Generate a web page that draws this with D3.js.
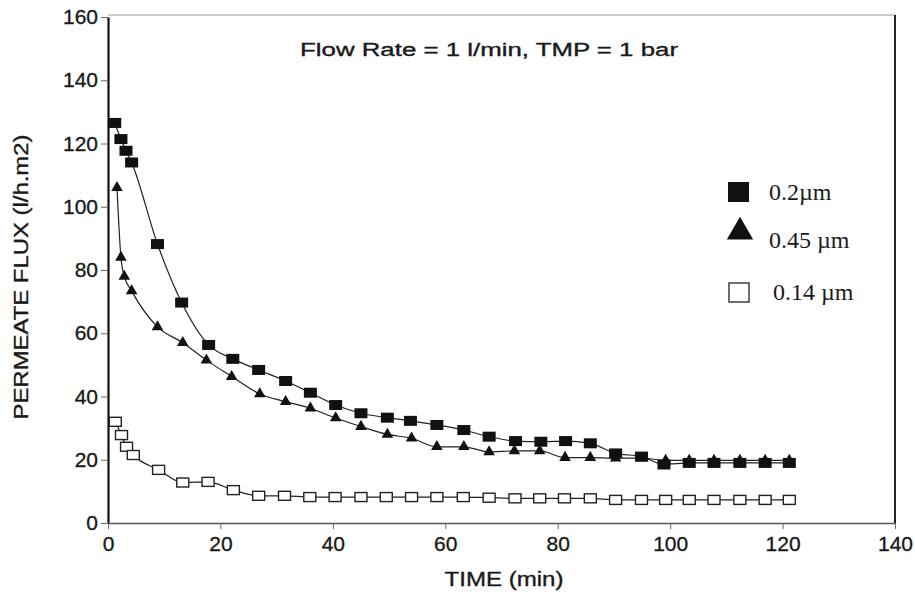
<!DOCTYPE html>
<html>
<head>
<meta charset="utf-8">
<script src="https://cdn.jsdelivr.net/npm/d3@7"></script>
<style>
  body { margin: 0; background: #fff; }
  .axis text { font-family: "Liberation Sans", Arial, sans-serif; font-size: 21px; fill: #1a1a1a; stroke: #1a1a1a; stroke-width: 0.35px; }
  .ink { stroke: #1a1a1a; stroke-width: 0.35px; }
</style>
</head>
<body>
<div id="chart"></div>
<script>
// ==================================================
// DATA
// ==================================================

// 0.2 um membrane (filled squares)
var time02 = [1.2, 2.3, 3.2, 4.2, 8.8, 13.1, 17.9, 22.2, 26.8, 31.6, 36, 40.5, 45, 49.7, 53.8,
              58.5, 63.3, 67.8, 72.5, 77, 81.4, 85.8, 90.3, 94.9, 98.9, 103.4, 107.8, 112.4, 116.9, 121.2];
var flux02 = [126.5, 121.4, 117.7, 114, 88.2, 69.7, 56.3, 51.9, 48.4, 44.9, 41.2, 37.3, 34.7, 33.3, 32.3,
              31, 29.4, 27.3, 25.9, 25.7, 25.9, 25.2, 22, 21, 18.5, 19, 19, 19, 19, 19];

// 0.45 um membrane (filled triangles)
var time045 = [1.6, 2.3, 2.9, 4.2, 8.8, 13.3, 17.5, 22, 27, 31.6, 36, 40.5, 45, 49.7, 54,
               58.5, 63.3, 67.8, 72.3, 76.8, 81.3, 85.8, 90.3, 94.9, 99.2, 103.4, 107.8, 112.4, 116.9, 121.2];
var flux045 = [106, 84, 78, 73.4, 62, 57, 51.5, 46.3, 40.8, 38.4, 36.3, 33.2, 30.5, 28, 26.8,
               24.1, 24.1, 22.5, 22.8, 22.8, 20.7, 20.7, 20.5, 20.5, 19.8, 19.8, 19.8, 19.8, 19.8, 19.8];

// 0.14 um membrane (open squares)
var time014 = [1.3, 2.4, 3.3, 4.5, 9, 13.3, 17.8, 22.3, 26.8, 31.4, 35.9, 40.4, 45, 49.5, 54,
               58.5, 63.2, 67.8, 72.4, 76.8, 81.2, 85.8, 90.3, 94.9, 99.2, 103.4, 107.8, 112.4, 116.9, 121.2];
var flux014 = [32, 27.8, 24.1, 21.5, 16.8, 12.8, 13, 10.4, 8.6, 8.6, 8.2, 8.2, 8.2, 8.2, 8.2,
               8.2, 8.2, 8, 7.8, 7.8, 7.8, 7.8, 7.3, 7.3, 7.3, 7.3, 7.3, 7.3, 7.3, 7.3];

var xTicks = [0, 20, 40, 60, 80, 100, 120, 140];
var yTicks = [0, 20, 40, 60, 80, 100, 120, 140, 160];
var legendLabels = ["0.2\u00b5m", "0.45 \u00b5m", "0.14 \u00b5m"];

// ==================================================
// CANVAS
// ==================================================

var width  = 915;
var height = 592;

var svg = d3.select("#chart")
  .append("svg")
    .attr("width", width)
    .attr("height", height);

var x = d3.scaleLinear()
  .domain([0, 140])
  .range([108, 895]);

var y = d3.scaleLinear()
  .domain([0, 160])
  .range([523, 17]);

// Frame (top and right)
svg.append("line")
  .attr("x1", x(0)).attr("x2", x(140))
  .attr("y1", y(160) - 2).attr("y2", y(160) - 2)
  .attr("stroke", "#9a9a9a").attr("stroke-width", 1);

svg.append("line")
  .attr("x1", x(140)).attr("x2", x(140))
  .attr("y1", y(160) - 2).attr("y2", y(0))
  .attr("stroke", "#222").attr("stroke-width", 2);

// Axes
var yAxis = svg.append("g")
  .attr("class", "axis")
  .attr("transform", "translate(" + x(0) + ",0)")
  .call(d3.axisLeft(y).tickValues(yTicks).tickSize(7).tickPadding(3).tickSizeOuter(0));

yAxis.select(".domain").attr("stroke", "#111").attr("stroke-width", 2.2);
yAxis.selectAll(".tick line").attr("stroke", "#666");

var xAxis = svg.append("g")
  .attr("class", "axis")
  .attr("transform", "translate(0," + y(0) + ")")
  .call(d3.axisBottom(x).tickValues(xTicks).tickSize(6).tickPadding(7).tickSizeOuter(0));

xAxis.select(".domain").attr("stroke", "#555").attr("stroke-width", 1.6);
xAxis.selectAll(".tick line").attr("stroke", "#666");

// Labels
svg.append("text")
  .attr("class", "ink")
  .attr("transform", "translate(28," + 277 + ") rotate(-90)")
  .attr("text-anchor", "middle")
  .attr("font-family", "Liberation Sans, Arial, sans-serif")
  .attr("font-size", "20px")
  .attr("fill", "#1a1a1a")
  .attr("textLength", 285)
  .attr("lengthAdjust", "spacingAndGlyphs")
  .text("PERMEATE FLUX (l/h.m2)");

svg.append("text")
  .attr("class", "ink")
  .attr("x", 504)
  .attr("y", 586)
  .attr("text-anchor", "middle")
  .attr("font-family", "Liberation Sans, Arial, sans-serif")
  .attr("font-size", "20px")
  .attr("fill", "#1a1a1a")
  .attr("textLength", 119)
  .attr("lengthAdjust", "spacingAndGlyphs")
  .text("TIME (min)");

svg.append("text")
  .attr("class", "ink")
  .attr("x", 489)
  .attr("y", 56)
  .attr("text-anchor", "middle")
  .attr("font-family", "Liberation Sans, Arial, sans-serif")
  .attr("font-size", "18px")
  .attr("fill", "#1a1a1a")
  .attr("textLength", 378)
  .attr("lengthAdjust", "spacingAndGlyphs")
  .text("Flow Rate = 1 l/min, TMP = 1 bar");

// ==================================================
// SERIES
// ==================================================

function pairs(times, values) {
  return times.map(function(t, i) { return { t: t, v: values[i] }; });
}

var line = d3.line()
  .x(function(d) { return x(d.t); })
  .y(function(d) { return y(d.v); })
  .curve(d3.curveMonotoneX);

var s02  = pairs(time02, flux02);
var s045 = pairs(time045, flux045);
var s014 = pairs(time014, flux014);

[s02, s045, s014].forEach(function(s) {
  svg.append("path")
    .datum(s)
    .attr("d", line)
    .attr("fill", "none")
    .attr("stroke", "#222")
    .attr("stroke-width", 1.2);
});

// 0.14 open squares
svg.append("g").selectAll("rect")
  .data(s014)
  .enter()
  .append("rect")
    .attr("x", function(d) { return x(d.t) - 6; })
    .attr("y", function(d) { return y(d.v) - 4.5; })
    .attr("width", 12)
    .attr("height", 9)
    .attr("fill", "#fff")
    .attr("stroke", "#222")
    .attr("stroke-width", 1.4);

// 0.2 filled squares
svg.append("g").selectAll("rect")
  .data(s02)
  .enter()
  .append("rect")
    .attr("x", function(d) { return x(d.t) - 6.5; })
    .attr("y", function(d) { return y(d.v) - 5; })
    .attr("width", 13)
    .attr("height", 10)
    .attr("fill", "#111");

// 0.45 filled triangles
var tri = d3.symbol().type(d3.symbolTriangle).size(58);

svg.append("g").selectAll("path")
  .data(s045)
  .enter()
  .append("path")
    .attr("d", tri)
    .attr("transform", function(d) { return "translate(" + x(d.t) + "," + y(d.v) + ")"; })
    .attr("fill", "#111");

// ==================================================
// LEGEND
// ==================================================

var legend = svg.append("g")
  .attr("font-family", "Liberation Serif, Times New Roman, serif")
  .attr("font-size", "24px")
  .attr("fill", "#1a1a1a");

legend.append("rect")
  .attr("x", 728).attr("y", 182)
  .attr("width", 21).attr("height", 20)
  .attr("fill", "#111");

legend.append("path")
  .attr("d", d3.symbol().type(d3.symbolTriangle).size(300))
  .attr("transform", "translate(740,232)")
  .attr("fill", "#111");

legend.append("rect")
  .attr("x", 729).attr("y", 283)
  .attr("width", 20).attr("height", 19)
  .attr("fill", "#fff")
  .attr("stroke", "#222")
  .attr("stroke-width", 1.3);

legend.selectAll("text")
  .data(legendLabels)
  .enter()
  .append("text")
    .attr("x", function(d, i) { return i === 2 ? 773 : 769; })
    .attr("y", function(d, i) { return [200, 248, 300][i]; })
    .text(function(d) { return d; });
</script>
</body>
</html>
